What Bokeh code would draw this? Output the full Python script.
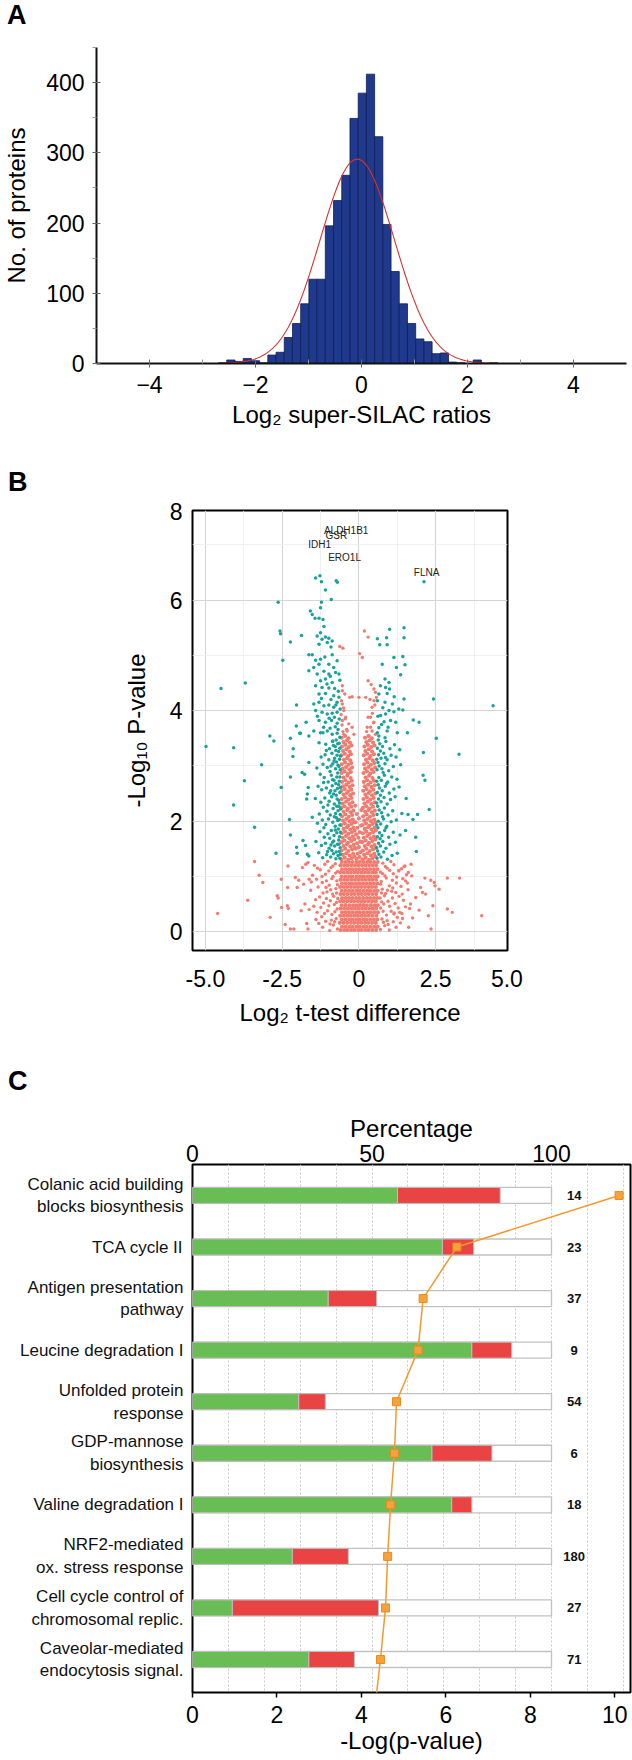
import numpy as np
from bokeh.plotting import figure
from bokeh.models import Range1d, LinearAxis, FixedTicker, Grid, Div
from bokeh.embed import file_html
from bokeh.resources import INLINE
from bokeh.core.properties import value

FONT = "Liberation Sans"

# ------------------------------------------------------------------ Panel A data
hist_centers = [-2.62, -2.465, -2.31, -2.155, -2.0, -1.845, -1.69, -1.535, -1.38, -1.225,
                -1.07, -0.915, -0.76, -0.605, -0.45, -0.295, -0.14, 0.015, 0.17, 0.325,
                0.48, 0.635, 0.79, 0.945, 1.10, 1.255, 1.41, 1.565, 1.72, 1.875,
                2.03, 2.185, 2.34, 2.495]
hist_counts = [1, 5, 3, 7, 4, 1, 12, 16, 37, 57,
               85, 120, 120, 196, 232, 268, 349, 385, 412, 323,
               198, 131, 85, 57, 35, 31, 14, 15, 2, 1,
               0, 5, 0, 1]
hist_bin_width = 0.155
fit_mu = -0.08
fit_sigma = 0.70
fit_peak = 291

# ------------------------------------------------------------------ Panel B data
teal_sparse = [
    (-1.41, 6.40), (-1.27, 6.44), (-1.22, 6.33), (-0.74, 6.35), (-0.70, 6.32), (-1.09, 6.18), (-2.63, 5.96), (-0.90, 6.01), (-1.22, 5.96), (-1.25, 5.86),
    (-1.58, 5.80), (-1.52, 5.74), (-1.43, 5.67), (-1.30, 5.67), (-1.17, 5.65), (-1.14, 5.52), (-2.57, 5.44), (-2.55, 5.39), (-1.87, 5.36), (-2.23, 5.24),
    (-1.36, 5.35), (-1.25, 5.41), (-1.20, 5.29), (-1.09, 5.33), (-0.98, 5.31), (-0.87, 5.26), (-1.03, 5.23), (-1.30, 5.20), (-0.91, 5.15), (-1.63, 5.01),
    (-1.52, 5.01), (-2.48, 4.91), (-1.41, 4.91), (-1.25, 4.93), (-1.11, 4.97), (-0.87, 5.01), (-0.71, 4.90), (-1.47, 4.78), (-1.30, 4.84), (-0.98, 4.84),
    (-0.82, 4.78), (-1.63, 4.72), (-1.36, 4.66), (-1.14, 4.71), (-0.98, 4.66), (-0.76, 4.69), (-0.65, 4.66), (-1.25, 4.54), (-1.09, 4.57), (-0.87, 4.51),
    (-1.41, 4.45), (-1.20, 4.42), (-0.98, 4.41), (-4.49, 4.40), (-3.70, 4.50), (-1.30, 4.30), (-1.09, 4.31), (-0.82, 4.27), (-0.65, 4.24), (-2.03, 4.10),
    (-1.47, 4.12), (-1.30, 4.15), (-1.14, 4.09), (-0.98, 4.10), (-0.82, 4.06), (-0.71, 4.15), (-1.41, 4.00), (-1.20, 3.97), (-1.03, 3.94), (-0.87, 3.95),
    (-0.71, 3.97), (-1.72, 3.79), (-1.30, 3.82), (-1.09, 3.79), (-0.89, 3.82), (-0.71, 3.77), (-1.90, 3.59), (-2.23, 3.50), (-1.47, 3.63), (-1.25, 3.60),
    (-1.03, 3.63), (-0.87, 3.57), (-0.71, 3.59), (-1.63, 3.54),
    (-0.62, 3.52), (-0.68, 3.66), (-0.77, 3.71), (-0.94, 3.68), (-1.15, 3.70), (-0.64, 3.85), (-0.80, 3.88), (-0.97, 3.86), (-1.35, 3.90), (-0.61, 4.03),
    (-0.75, 4.10), (-0.91, 4.20), (-1.22, 4.22), (-0.67, 4.35), (-0.79, 4.40), (-1.04, 4.48), (-0.62, 4.55), (-0.93, 4.62), (-1.17, 3.60), (-0.85, 3.45),
    (1.00, 5.47), (1.47, 5.50), (0.60, 5.30), (0.90, 5.32), (1.47, 5.32), (0.68, 5.19), (0.92, 5.19), (1.14, 4.96), (1.43, 4.98), (0.76, 4.84),
    (1.22, 4.78), (1.50, 4.83), (1.36, 4.65), (0.85, 4.57), (0.98, 4.51), (0.87, 4.42), (1.00, 4.39), (0.65, 4.30), (0.92, 4.31), (0.60, 4.18),
    (0.85, 4.15), (1.09, 4.12), (1.47, 4.21), (2.43, 4.21), (4.37, 4.09), (0.98, 4.00), (1.14, 3.98), (1.30, 4.03), (1.43, 4.01), (0.71, 3.91),
    (0.87, 3.94), (0.82, 3.80), (1.03, 3.82), (1.20, 3.79), (1.77, 3.83), (1.96, 3.79), (0.65, 3.69), (0.92, 3.63), (1.25, 3.60), (1.58, 3.60),
    (0.65, 3.54), (0.85, 3.51), (2.52, 3.50), (2.12, 6.33),
    (0.60, 3.60), (0.74, 3.75), (0.95, 3.70), (0.62, 3.90), (0.78, 4.05), (1.15, 4.25), (0.70, 4.45),
    (-4.98, 3.35), (-4.08, 3.33), (-2.77, 3.45), (-3.17, 3.02), (-2.15, 3.17), (-3.73, 2.73), (-4.08, 2.29), (-2.53, 2.61), (-2.23, 2.80), (-1.63, 3.06),
    (-1.77, 2.85), (-1.85, 2.88), (-1.65, 2.61), (-1.68, 2.49), (-1.70, 2.40), (-1.52, 2.07), (-2.26, 2.03), (-3.40, 1.89), (-2.23, 1.75), (-2.70, 1.42),
    (-2.03, 1.53), (-1.74, 1.56), (-1.63, 1.37), (-2.90, 3.54), (-2.04, 3.72), (-1.93, 3.59), (-2.14, 3.31), (-2.01, 1.42), (-1.82, 1.65), (-1.68, 1.40),
    (2.10, 3.24), (3.26, 3.21), (2.09, 2.83), (2.15, 2.74), (1.54, 2.41), (2.29, 2.21), (1.60, 2.12), (1.76, 2.03), (1.91, 2.12), (1.52, 1.83),
    (1.85, 1.71), (1.87, 1.45),
]
teal_band_left = [
    (-0.62, 1.33), (-0.68, 1.38), (-0.75, 1.32), (-0.83, 1.41), (-0.92, 1.35), (-1.05, 1.39), (-1.18, 1.34), (-1.31, 1.43), (-0.64, 1.45), (-0.88, 1.47),
    (-0.61, 1.52), (-0.70, 1.58), (-0.79, 1.55), (-0.86, 1.62), (-0.97, 1.51), (-1.09, 1.60), (-1.22, 1.56), (-1.40, 1.63), (-0.66, 1.66),
    (-0.63, 1.72), (-0.72, 1.79), (-0.81, 1.74), (-0.90, 1.83), (-1.01, 1.77), (-1.13, 1.71), (-1.27, 1.81), (-0.67, 1.86), (-0.95, 1.69),
    (-0.62, 1.93), (-0.69, 2.01), (-0.77, 1.91), (-0.85, 1.98), (-0.99, 2.04), (-1.08, 1.94), (-1.19, 2.02), (-1.35, 1.96), (-0.73, 2.06),
    (-0.61, 2.12), (-0.68, 2.19), (-0.76, 2.14), (-0.84, 2.23), (-0.93, 2.11), (-1.04, 2.18), (-1.16, 2.25), (-1.29, 2.13), (-0.65, 2.27),
    (-0.63, 2.33), (-0.71, 2.40), (-0.80, 2.31), (-0.89, 2.44), (-0.97, 2.36), (-1.11, 2.42), (-1.24, 2.34), (-1.42, 2.41), (-0.74, 2.47),
    (-0.62, 2.52), (-0.70, 2.59), (-0.78, 2.55), (-0.87, 2.64), (-0.95, 2.51), (-1.06, 2.60), (-1.21, 2.57), (-1.33, 2.63), (-0.66, 2.66),
    (-0.64, 2.72), (-0.72, 2.80), (-0.81, 2.74), (-0.90, 2.83), (-1.00, 2.71), (-1.13, 2.79), (-1.26, 2.85), (-0.69, 2.87), (-0.94, 2.90),
    (-0.61, 2.93), (-0.68, 3.01), (-0.76, 2.95), (-0.85, 3.04), (-1.03, 2.97), (-1.17, 3.03), (-1.37, 2.96), (-0.73, 3.07),
    (-0.63, 3.12), (-0.71, 3.19), (-0.79, 3.14), (-0.88, 3.23), (-0.98, 3.11), (-1.10, 3.20), (-1.23, 3.16), (-0.66, 3.26),
    (-0.62, 3.32), (-0.69, 3.40), (-0.77, 3.35), (-0.86, 3.44), (-0.96, 3.31), (-1.08, 3.39), (-1.30, 3.42), (-0.74, 3.47),
    (-0.60, 1.40), (-0.74, 1.44), (-0.65, 1.58), (-0.82, 1.64), (-0.60, 1.80), (-0.77, 1.84), (-0.64, 2.03), (-0.80, 2.08), (-0.60, 2.22), (-0.72, 2.27),
    (-0.66, 2.38), (-0.83, 2.49), (-0.60, 2.61), (-0.75, 2.68), (-0.62, 2.80), (-0.86, 2.75), (-0.65, 2.99), (-0.81, 3.09), (-0.60, 3.18), (-0.75, 3.28),
    (-0.64, 3.41), (-0.83, 3.37), (-1.02, 1.45), (-1.14, 1.88), (-1.01, 2.29), (-1.15, 2.70), (-1.06, 3.28), (-0.91, 1.57), (-0.92, 2.55), (-0.91, 3.00),
]
teal_band_right = [
    (0.59, 1.33), (0.65, 1.40), (0.72, 1.35), (0.81, 1.44), (0.93, 1.31), (1.08, 1.38), (1.25, 1.42),
    (0.58, 1.52), (0.64, 1.60), (0.70, 1.55), (0.78, 1.63), (0.88, 1.51), (1.01, 1.58), (1.19, 1.62),
    (0.60, 1.72), (0.67, 1.79), (0.75, 1.74), (0.84, 1.83), (0.97, 1.71), (1.12, 1.80), (1.34, 1.75),
    (0.58, 1.93), (0.63, 2.00), (0.71, 1.95), (0.80, 2.04), (0.91, 1.91), (1.05, 1.99), (1.22, 2.02),
    (0.59, 2.12), (0.66, 2.20), (0.74, 2.15), (0.83, 2.24), (0.95, 2.11), (1.10, 2.19), (1.40, 2.14),
    (0.58, 2.33), (0.64, 2.40), (0.72, 2.35), (0.82, 2.43), (0.92, 2.31), (1.03, 2.39), (1.18, 2.44),
    (0.60, 2.52), (0.67, 2.60), (0.76, 2.55), (0.86, 2.63), (0.99, 2.51), (1.14, 2.58), (1.31, 2.62),
    (0.58, 2.72), (0.65, 2.79), (0.73, 2.74), (0.83, 2.83), (0.94, 2.71), (1.07, 2.80), (1.24, 2.76),
    (0.59, 2.93), (0.66, 3.00), (0.75, 2.95), (0.85, 3.04), (0.97, 2.91), (1.12, 2.99), (1.36, 3.02),
    (0.58, 3.12), (0.64, 3.20), (0.72, 3.14), (0.81, 3.23), (0.92, 3.11), (1.05, 3.19), (1.21, 3.16),
    (0.60, 3.32), (0.68, 3.40), (0.77, 3.35), (0.88, 3.44), (1.01, 3.31), (1.16, 3.38), (1.33, 3.29),
    (0.61, 1.46), (0.69, 1.68), (0.62, 1.88), (0.77, 2.08), (0.61, 2.27), (0.70, 2.47), (0.63, 2.66), (0.79, 2.88), (0.62, 3.06), (0.70, 3.27),
    (0.63, 3.47), (0.88, 1.88), (0.90, 2.68), (0.87, 3.15),
]
pink_col_left = [
    (-0.57, 1.31), (-0.46, 1.34), (-0.35, 1.30), (-0.24, 1.33), (-0.15, 1.36), (-0.52, 1.39), (-0.41, 1.42), (-0.30, 1.38), (-0.19, 1.41), (-0.56, 1.47),
    (-0.45, 1.50), (-0.34, 1.46), (-0.22, 1.49), (-0.13, 1.52), (-0.50, 1.55), (-0.39, 1.58), (-0.28, 1.54), (-0.17, 1.57),
    (-0.57, 1.62), (-0.47, 1.65), (-0.36, 1.61), (-0.25, 1.64), (-0.15, 1.67), (-0.53, 1.70), (-0.42, 1.73), (-0.31, 1.69), (-0.20, 1.72), (-0.56, 1.78),
    (-0.45, 1.81), (-0.34, 1.77), (-0.23, 1.80), (-0.14, 1.83), (-0.50, 1.86), (-0.39, 1.89), (-0.28, 1.85), (-0.18, 1.88),
    (-0.57, 1.93), (-0.46, 1.96), (-0.35, 1.92), (-0.24, 1.95), (-0.16, 1.98), (-0.52, 2.01), (-0.41, 2.04), (-0.30, 2.00), (-0.20, 2.03), (-0.55, 2.09),
    (-0.44, 2.12), (-0.33, 2.08), (-0.22, 2.11), (-0.50, 2.17), (-0.38, 2.20), (-0.27, 2.16), (-0.18, 2.19),
    (-0.57, 2.24), (-0.47, 2.27), (-0.36, 2.23), (-0.25, 2.26), (-0.53, 2.32), (-0.42, 2.35), (-0.31, 2.31), (-0.21, 2.34), (-0.56, 2.40), (-0.45, 2.43),
    (-0.34, 2.39), (-0.24, 2.42), (-0.50, 2.48), (-0.39, 2.51), (-0.28, 2.47), (-0.19, 2.50),
    (-0.57, 2.55), (-0.46, 2.58), (-0.35, 2.54), (-0.25, 2.57), (-0.52, 2.63), (-0.41, 2.66), (-0.30, 2.62), (-0.21, 2.65), (-0.55, 2.71), (-0.44, 2.74),
    (-0.33, 2.70), (-0.23, 2.73), (-0.50, 2.79), (-0.38, 2.82), (-0.27, 2.78),
    (-0.57, 2.87), (-0.47, 2.90), (-0.36, 2.86), (-0.26, 2.89), (-0.53, 2.95), (-0.42, 2.98), (-0.31, 2.94), (-0.22, 2.97), (-0.56, 3.03), (-0.45, 3.06),
    (-0.34, 3.02), (-0.25, 3.05), (-0.49, 3.11), (-0.38, 3.14), (-0.28, 3.10),
    (-0.57, 3.19), (-0.46, 3.22), (-0.35, 3.18), (-0.26, 3.21), (-0.52, 3.27), (-0.41, 3.30), (-0.30, 3.26), (-0.55, 3.35), (-0.44, 3.38), (-0.33, 3.34),
    (-0.24, 3.37), (-0.50, 3.43), (-0.39, 3.46), (-0.29, 3.42), (-0.56, 3.51), (-0.45, 3.54), (-0.34, 3.50),
]
pink_col_right = [
    (0.12, 1.31), (0.22, 1.34), (0.33, 1.30), (0.44, 1.33), (0.54, 1.36), (0.17, 1.39), (0.28, 1.42), (0.39, 1.38), (0.50, 1.41), (0.13, 1.47),
    (0.24, 1.50), (0.35, 1.46), (0.46, 1.49), (0.55, 1.52), (0.19, 1.55), (0.30, 1.58), (0.41, 1.54), (0.51, 1.57),
    (0.11, 1.62), (0.22, 1.65), (0.33, 1.61), (0.44, 1.64), (0.54, 1.67), (0.16, 1.70), (0.27, 1.73), (0.38, 1.69), (0.49, 1.72), (0.13, 1.78),
    (0.24, 1.81), (0.35, 1.77), (0.46, 1.80), (0.55, 1.83), (0.19, 1.86), (0.30, 1.89), (0.41, 1.85), (0.51, 1.88),
    (0.12, 1.93), (0.23, 1.96), (0.34, 1.92), (0.45, 1.95), (0.54, 1.98), (0.17, 2.01), (0.28, 2.04), (0.39, 2.00), (0.50, 2.03), (0.14, 2.09),
    (0.25, 2.12), (0.36, 2.08), (0.47, 2.11), (0.20, 2.17), (0.31, 2.20), (0.42, 2.16), (0.52, 2.19),
    (0.13, 2.24), (0.24, 2.27), (0.35, 2.23), (0.46, 2.26), (0.18, 2.32), (0.29, 2.35), (0.40, 2.31), (0.51, 2.34), (0.15, 2.40), (0.26, 2.43),
    (0.37, 2.39), (0.48, 2.42), (0.21, 2.48), (0.32, 2.51), (0.43, 2.47), (0.54, 2.50),
    (0.14, 2.55), (0.25, 2.58), (0.36, 2.54), (0.47, 2.57), (0.19, 2.63), (0.30, 2.66), (0.41, 2.62), (0.52, 2.65), (0.16, 2.71), (0.27, 2.74),
    (0.38, 2.70), (0.49, 2.73), (0.22, 2.79), (0.33, 2.82), (0.44, 2.78),
    (0.15, 2.87), (0.26, 2.90), (0.37, 2.86), (0.48, 2.89), (0.20, 2.95), (0.31, 2.98), (0.42, 2.94), (0.53, 2.97), (0.17, 3.03), (0.28, 3.06),
    (0.39, 3.02), (0.50, 3.05), (0.23, 3.11), (0.34, 3.14), (0.45, 3.10),
    (0.16, 3.19), (0.27, 3.22), (0.38, 3.18), (0.49, 3.21), (0.21, 3.27), (0.32, 3.30), (0.43, 3.26), (0.18, 3.35), (0.29, 3.38), (0.40, 3.34),
    (0.51, 3.37), (0.24, 3.43), (0.35, 3.46), (0.46, 3.42), (0.20, 3.51), (0.31, 3.54), (0.42, 3.50),
]
pink_gap = [
    (-0.08, 1.32), (0.02, 1.35), (-0.04, 1.41), (0.06, 1.44), (-0.10, 1.50), (0.00, 1.53), (-0.06, 1.60), (0.05, 1.63), (-0.02, 1.70),
    (-0.09, 1.76), (0.03, 1.80), (-0.05, 1.88), (0.07, 1.92), (-0.11, 1.98), (0.00, 2.05), (-0.07, 2.13), (0.08, 2.20), (-0.12, 2.28),
]
pink_core_rows = [
    (0.03, [-0.60, -0.48, -0.37, -0.25, -0.14, -0.02, 0.09, 0.21, 0.32, 0.44, 0.56]),
    (0.09, [-0.55, -0.43, -0.31, -0.20, -0.08, 0.03, 0.15, 0.26, 0.38, 0.50, 0.61]),
    (0.16, [-0.62, -0.50, -0.38, -0.26, -0.15, -0.03, 0.08, 0.20, 0.31, 0.43, 0.55]),
    (0.22, [-0.56, -0.44, -0.32, -0.21, -0.09, 0.02, 0.14, 0.25, 0.37, 0.49, 0.60]),
    (0.29, [-0.61, -0.49, -0.37, -0.26, -0.14, -0.03, 0.09, 0.20, 0.32, 0.44, 0.57]),
    (0.35, [-0.55, -0.43, -0.32, -0.20, -0.08, 0.03, 0.15, 0.27, 0.38, 0.50, 0.62]),
    (0.42, [-0.60, -0.48, -0.36, -0.25, -0.13, -0.02, 0.10, 0.21, 0.33, 0.45, 0.56]),
    (0.48, [-0.56, -0.44, -0.31, -0.19, -0.08, 0.04, 0.15, 0.26, 0.39, 0.51, 0.61]),
    (0.55, [-0.61, -0.50, -0.38, -0.26, -0.15, -0.03, 0.08, 0.19, 0.31, 0.43, 0.55]),
    (0.61, [-0.55, -0.43, -0.32, -0.21, -0.09, 0.02, 0.14, 0.26, 0.37, 0.49, 0.60]),
    (0.68, [-0.60, -0.49, -0.37, -0.25, -0.14, -0.02, 0.09, 0.21, 0.32, 0.44, 0.56]),
    (0.74, [-0.56, -0.44, -0.32, -0.20, -0.08, 0.03, 0.15, 0.27, 0.38, 0.50, 0.61]),
    (0.81, [-0.61, -0.49, -0.38, -0.26, -0.14, -0.03, 0.08, 0.20, 0.32, 0.43, 0.55]),
    (0.87, [-0.55, -0.43, -0.31, -0.20, -0.09, 0.03, 0.14, 0.26, 0.37, 0.49, 0.60]),
    (0.94, [-0.60, -0.48, -0.37, -0.25, -0.13, -0.02, 0.10, 0.21, 0.33, 0.44, 0.56]),
    (1.00, [-0.56, -0.44, -0.32, -0.21, -0.08, 0.04, 0.15, 0.27, 0.38, 0.50, 0.61]),
    (1.07, [-0.61, -0.49, -0.37, -0.26, -0.14, -0.03, 0.09, 0.20, 0.32, 0.44, 0.55]),
    (1.13, [-0.55, -0.43, -0.31, -0.20, -0.09, 0.02, 0.14, 0.26, 0.37, 0.49, 0.60]),
    (1.20, [-0.60, -0.48, -0.37, -0.25, -0.13, -0.02, 0.10, 0.21, 0.33, 0.45, 0.56]),
    (1.26, [-0.56, -0.44, -0.32, -0.21, -0.08, 0.03, 0.15, 0.27, 0.38, 0.50, 0.61]),
]
pink_outer = [
    (-0.70, 0.05), (-0.83, 0.12), (-0.95, 0.02), (-1.08, 0.19), (-0.74, 0.24), (-0.88, 0.31), (-1.21, 0.27), (-1.02, 0.38), (-0.71, 0.41), (-1.36, 0.35),
    (-0.80, 0.49), (-0.93, 0.56), (-1.15, 0.52), (-1.47, 0.46), (-0.69, 0.60), (-1.28, 0.63), (-0.86, 0.68), (-1.04, 0.72), (-0.75, 0.78), (-1.57, 0.75),
    (-0.97, 0.84), (-1.19, 0.89), (-0.72, 0.92), (-1.38, 0.95), (-0.84, 1.00), (-1.09, 1.04), (-0.69, 1.09), (-1.26, 1.12), (-0.91, 1.16), (-1.45, 1.20),
    (-0.77, 1.23), (-1.02, 1.27), (-1.18, 0.08), (-1.31, 0.15), (-0.90, 0.21), (-1.12, 0.33), (-0.78, 0.36), (-1.24, 0.44), (-0.98, 0.47), (-0.73, 0.53),
    (-1.06, 0.60), (-1.41, 0.58), (-0.82, 0.64), (-1.17, 0.70), (-0.92, 0.76), (-1.33, 0.81), (-0.70, 0.85), (-1.06, 0.92), (-0.88, 0.96), (-1.51, 1.02),
    (-1.20, 1.00), (-0.76, 1.06), (-0.98, 1.10), (-1.35, 1.15), (-0.85, 1.19), (-1.11, 1.22), (-1.62, 0.40), (-1.55, 0.90), (-1.66, 1.25), (-0.94, 0.14),
    (-1.40, 0.22), (-1.07, 0.80), (-0.79, 0.18), (-0.73, 0.70),
    (0.70, 0.04), (0.84, 0.11), (0.99, 0.03), (1.12, 0.18), (0.75, 0.23), (0.90, 0.30), (1.25, 0.26), (1.05, 0.37), (0.71, 0.43), (1.40, 0.33),
    (0.81, 0.50), (0.95, 0.55), (1.18, 0.51), (1.52, 0.45), (0.69, 0.61), (1.31, 0.64), (0.87, 0.69), (1.07, 0.73), (0.76, 0.77), (1.60, 0.76),
    (0.99, 0.83), (1.22, 0.88), (0.73, 0.91), (1.43, 0.96), (0.85, 1.01), (1.12, 1.05), (0.70, 1.08), (1.30, 1.11), (0.92, 1.15), (1.50, 1.19),
    (0.78, 1.24), (1.04, 1.27), (1.21, 0.08), (1.35, 0.16), (0.92, 0.20), (1.15, 0.34), (0.79, 0.37), (1.28, 0.43), (1.00, 0.46), (0.74, 0.54),
    (1.09, 0.61), (1.45, 0.57), (0.83, 0.65), (1.20, 0.71), (0.93, 0.75), (1.37, 0.82), (0.71, 0.86), (1.09, 0.93), (0.89, 0.97), (1.55, 1.03),
    (1.23, 0.99), (0.77, 1.05), (1.00, 1.11), (1.39, 1.14), (0.86, 1.18), (1.14, 1.21), (1.65, 0.42), (1.58, 0.88), (0.95, 0.13), (1.42, 0.24),
    (1.10, 0.79), (0.80, 0.17), (0.74, 0.70),
]
pink_sparse = [
    (0.18, 5.44), (0.30, 5.33), (-0.62, 5.16), (-0.52, 5.13), (0.02, 5.03), (0.11, 4.96), (-0.54, 4.45), (-0.54, 4.36), (-0.46, 4.30), (-0.30, 4.24),
    (-0.22, 4.25), (0.00, 4.24), (0.22, 4.24), (0.30, 4.54), (0.40, 4.47), (0.49, 4.39), (0.54, 4.33), (0.57, 4.24), (0.49, 4.18), (0.43, 4.06),
    (-0.54, 4.12), (-0.49, 4.00), (-0.43, 3.88), (-0.54, 3.82), (-0.33, 3.76), (-0.22, 3.70), (-0.38, 3.63), (-0.49, 3.57), (-0.16, 3.57), (0.38, 3.88),
    (0.49, 3.79), (0.27, 3.70), (0.43, 3.63), (0.33, 3.54), (0.54, 3.57),
    (-0.52, 3.62), (-0.40, 3.66), (-0.55, 3.74), (-0.45, 3.85), (-0.58, 3.93), (-0.50, 4.05), (-0.57, 4.18), (0.25, 3.62), (0.38, 3.70), (0.48, 3.78),
    (0.30, 3.88), (0.44, 3.95), (0.52, 4.10), (0.36, 4.20),
]
pink_outliers = [
    (-4.60, 0.33), (-3.40, 1.27), (-3.25, 1.02), (-3.13, 0.89), (-3.62, 0.57), (-2.89, 0.26), (-2.53, 0.95), (-2.66, 0.65), (-2.63, 0.61), (-2.52, 0.44),
    (-2.40, 0.13), (-2.23, 0.05), (-2.12, 0.05), (-2.32, 0.80), (-2.07, 0.98), (-1.96, 0.93), (-2.01, 0.80), (-2.33, 0.47), (-2.30, 0.42), (-2.31, 1.19),
    (-1.84, 1.16), (-1.80, 0.86), (-1.76, 0.50), (-1.70, 0.15), (-1.88, 0.38), (-1.73, 1.22), (-1.62, 0.95), (-1.66, 0.05),
    (2.15, 0.97), (2.34, 0.93), (2.45, 0.89), (2.48, 0.83), (2.01, 0.80), (2.07, 0.71), (2.17, 0.68), (2.61, 0.77), (2.88, 0.97), (3.28, 0.97),
    (2.41, 0.47), (2.26, 0.29), (2.88, 0.41), (3.04, 0.35), (4.00, 0.29), (2.35, 0.05), (1.47, 1.18), (1.61, 1.07), (1.72, 1.01), (1.52, 0.92),
    (1.85, 0.62), (1.41, 0.68), (1.68, 0.50), (1.33, 0.35), (1.14, 0.32), (1.96, 0.39), (1.30, 1.10), (1.70, 1.22), (1.62, 0.08), (1.75, 0.25),
]
gene_names = ["ALDH1B1", "GSR", "IDH1", "ERO1L", "FLNA"]
gene_x = [-1.14, -1.09, -1.65, -1.00, 1.79]
gene_y = [7.26, 7.16, 7.01, 6.77, 6.49]

# ------------------------------------------------------------------ Panel C data
pathways = [
    "Colanic acid building\nblocks biosynthesis",
    "TCA cycle II",
    "Antigen presentation\npathway",
    "Leucine degradation I",
    "Unfolded protein\nresponse",
    "GDP-mannose\nbiosynthesis",
    "Valine degradation I",
    "NRF2-mediated\nox. stress response",
    "Cell cycle control of\nchromosomal replic.",
    "Caveolar-mediated\nendocytosis signal.",
]
pct_up = [57.1, 69.6, 37.8, 77.8, 29.6, 66.7, 72.2, 27.8, 11.1, 32.4]
pct_down = [28.6, 8.7, 13.5, 11.1, 7.4, 16.7, 5.6, 15.6, 40.7, 12.7]
neg_log_p = [10.10, 6.26, 5.46, 5.34, 4.83, 4.78, 4.69, 4.62, 4.57, 4.45]
n_molecules = [14, 23, 37, 9, 54, 6, 18, 180, 27, 71]
next_term_neg_log_p = 4.31   # the line continues to a term below the visible list
pct_per_logp_unit = 100 / 8.5  # 100 % on the top axis sits at 8.5 on the bottom axis

TEAL = "#1aa29b"
PINK = "#f27b70"


def style_axis(ax, lab_size, title_size):
    ax.major_label_text_font = FONT
    ax.major_label_text_font_size = lab_size
    ax.major_label_text_color = "black"
    ax.axis_label_text_font = FONT
    ax.axis_label_text_font_size = title_size
    ax.axis_label_text_font_style = "normal"
    ax.axis_label_text_color = "black"


def panel_letter(letter, height, pad_top, pad_left):
    html = ('<div style="font-family:\'Liberation Sans\',Arial,sans-serif;font-size:27px;'
            'font-weight:bold;line-height:27px;color:#000;'
            'padding:%dpx 0 0 %dpx;">%s</div>' % (pad_top, pad_left, letter))
    return Div(text=html, width=632, height=height, margin=0)


def no_ticks(ax):
    ax.major_tick_out = 0
    ax.major_tick_in = 0
    ax.minor_tick_out = 0
    ax.minor_tick_in = 0


# ================================================================== Panel A
div_a = panel_letter("A", 40, 2, 7)
pa = figure(width=632, height=405, output_backend="svg", toolbar_location=None,
            x_range=Range1d(-5, 5), y_range=Range1d(0, 450),
            min_border_left=94, min_border_right=6, min_border_top=7, min_border_bottom=82)
pa.outline_line_color = None
pa.xgrid.visible = False
pa.ygrid.visible = False
pa.vbar(x=hist_centers, top=hist_counts, bottom=0, width=hist_bin_width,
        fill_color="#1f3a8c", line_color="#101d55", line_width=0.8)
fx = np.linspace(-2.6, 2.45, 300)
fy = fit_peak * np.exp(-(fx - fit_mu) ** 2 / (2 * fit_sigma ** 2))
pa.line(fx, fy, line_color="#d8322d", line_width=1.1)

xa = pa.xaxis[0]
xa.ticker = FixedTicker(ticks=[-4, -2, 0, 2, 4], minor_ticks=[-3, -1, 1, 3])
style_axis(xa, "23px", "24px")
xa.axis_label = "Log₂ super-SILAC ratios"
xa.axis_line_width = 2
xa.axis_line_color = "#111111"
xa.major_tick_in = 4
xa.major_tick_out = 4
xa.major_tick_line_color = "#666666"
xa.minor_tick_in = 4
xa.minor_tick_out = 0
xa.minor_tick_line_color = "#999999"
xa.major_label_standoff = 8
xa.axis_label_standoff = 5

ya = pa.yaxis[0]
ya.ticker = FixedTicker(ticks=[0, 100, 200, 300, 400], minor_ticks=[50, 150, 250, 350, 450])
style_axis(ya, "23px", "24px")
ya.axis_label = "No. of proteins"
ya.axis_line_width = 2
ya.axis_line_color = "#111111"
ya.major_tick_in = 4
ya.major_tick_out = 4
ya.major_tick_line_color = "#666666"
ya.minor_tick_in = 0
ya.minor_tick_out = 4
ya.minor_tick_line_color = "#999999"
ya.major_label_standoff = 8
ya.axis_label_standoff = 13

# ================================================================== Panel B
div_b = panel_letter("B", 55, 24, 8)
pb = figure(width=632, height=540, output_backend="svg", toolbar_location=None,
            x_range=Range1d(-5.42, 4.84), y_range=Range1d(-0.34, 7.62),
            min_border_left=192, min_border_right=125, min_border_top=10, min_border_bottom=90)
pb.outline_line_color = "black"
pb.outline_line_width = 2
pb.xgrid.ticker = FixedTicker(ticks=[-5, -2.5, 0, 2.5], minor_ticks=[-3.75, -1.25, 1.25, 3.75])
pb.ygrid.ticker = FixedTicker(ticks=[0, 2, 4, 6], minor_ticks=[1, 3, 5, 7])
for g in (pb.xgrid[0], pb.ygrid[0]):
    g.grid_line_color = "#d5d5d5"
    g.grid_line_width = 1.1
    g.minor_grid_line_color = "#ececec"
    g.minor_grid_line_width = 0.8

pink_dense = pink_gap + pink_col_left + pink_col_right
for yv, xs in pink_core_rows:
    pink_dense = pink_dense + [(xv, yv) for xv in xs]
pink_loose = pink_outliers + pink_outer + pink_sparse
teal_pts = teal_sparse + teal_band_left + teal_band_right
dx, dy = zip(*pink_dense)
lx, ly = zip(*pink_loose)
tx, ty = zip(*teal_pts)
pb.scatter(list(dx), list(dy), size=4.1, marker="circle", fill_color=PINK, line_color=None)
pb.scatter(list(lx), list(ly), size=3.4, marker="circle", fill_color=PINK, line_color=None)
pb.scatter(list(tx), list(ty), size=3.5, marker="circle", fill_color=TEAL, line_color=None)
pb.text(x=gene_x, y=gene_y, text=gene_names, text_font=value(FONT), text_font_size="10px",
        text_align="left", text_baseline="middle", text_color="#222222")

bx = pb.xaxis[0]
bx.ticker = FixedTicker(ticks=[-5, -2.5, 0, 2.5, 4.82])
bx.major_label_overrides = {-5: "-5.0", -2.5: "-2.5", 0: "0", 2.5: "2.5", 4.82: "5.0"}
style_axis(bx, "23px", "24px")
bx.axis_label = "Log₂ t-test difference"
bx.axis_line_color = None
no_ticks(bx)
bx.major_label_standoff = 19
bx.axis_label_standoff = 9

by = pb.yaxis[0]
by.ticker = FixedTicker(ticks=[0, 2, 4, 6, 7.6])
by.major_label_overrides = {7.6: "8"}
style_axis(by, "23px", "24px")
by.axis_label = "-Log₁₀ P-value"
by.axis_line_color = None
no_ticks(by)
by.major_label_standoff = 10
by.axis_label_standoff = 17

# ================================================================== Panel C
div_c = panel_letter("C", 60, 28, 8)
x_end = 10.37
pc = figure(width=632, height=660, output_backend="svg", toolbar_location=None,
            x_range=Range1d(0, x_end), y_range=Range1d(10.64, 0.40),
            min_border_left=192, min_border_right=2, min_border_top=64, min_border_bottom=68)
pc.extra_x_ranges = {"pct": Range1d(0, x_end * pct_per_logp_unit)}
pc.outline_line_color = "black"
pc.outline_line_width = 2
pc.xgrid.visible = False
pc.ygrid.visible = False
pc.add_layout(Grid(dimension=0, x_range_name="pct",
                   ticker=FixedTicker(ticks=[10, 20, 30, 40, 50, 60, 70, 80, 90, 100, 110, 120]),
                   grid_line_color="#c9c9c9", grid_line_dash="2 2", grid_line_width=1))

pos = list(range(1, len(pathways) + 1))
up_end = [u + d for u, d in zip(pct_up, pct_down)]
pc.hbar(y=pos, left=0, right=100, height=0.31, fill_color="white",
        line_color="#c2c2c2", line_width=1.3, x_range_name="pct")
pc.hbar(y=pos, left=0, right=pct_up, height=0.31, fill_color="#69bd55",
        line_color="#bfbfbf", line_width=1, x_range_name="pct")
pc.hbar(y=pos, left=pct_up, right=up_end, height=0.31, fill_color="#ea4343",
        line_color="#bfbfbf", line_width=1, x_range_name="pct")
pc.line(neg_log_p + [next_term_neg_log_p], pos + [len(pos) + 1], line_color="#f39a2e", line_width=1.5)
pc.scatter(neg_log_p, pos, marker="square", size=8, fill_color="#f6a23c", line_color="#e98a1f", line_width=1)
pc.text(x=[106.3] * len(pos), y=pos, text=[str(n) for n in n_molecules], x_range_name="pct",
        text_font=value(FONT), text_font_size="13px", text_font_style="bold",
        text_align="center", text_baseline="middle", text_color="#111111")

cy = pc.yaxis[0]
cy.ticker = FixedTicker(ticks=pos)
cy.major_label_overrides = {i: name for i, name in zip(pos, pathways)}
style_axis(cy, "17px", "17px")
cy.major_label_text_color = "#111111"
cy.axis_line_color = None
no_ticks(cy)
cy.major_label_standoff = 9

cx = pc.xaxis[0]
cx.ticker = FixedTicker(ticks=[0, 2, 4, 6, 8, 10])
style_axis(cx, "23px", "24px")
cx.axis_label = "-Log(p-value)"
cx.axis_line_color = None
no_ticks(cx)
cx.major_tick_out = 5
cx.major_tick_line_color = "black"
cx.major_tick_line_width = 1.5
cx.major_label_standoff = 8
cx.axis_label_standoff = 1

top = LinearAxis(x_range_name="pct", ticker=FixedTicker(ticks=[0, 50, 100]), axis_label="Percentage")
style_axis(top, "23px", "24px")
top.axis_line_color = None
no_ticks(top)
top.major_label_standoff = 3
top.axis_label_standoff = 0
pc.add_layout(top, "above")

with open("out.html", "w") as f:
    f.write(file_html([div_a, pa, div_b, pb, div_c, pc], INLINE, "Figure"))
